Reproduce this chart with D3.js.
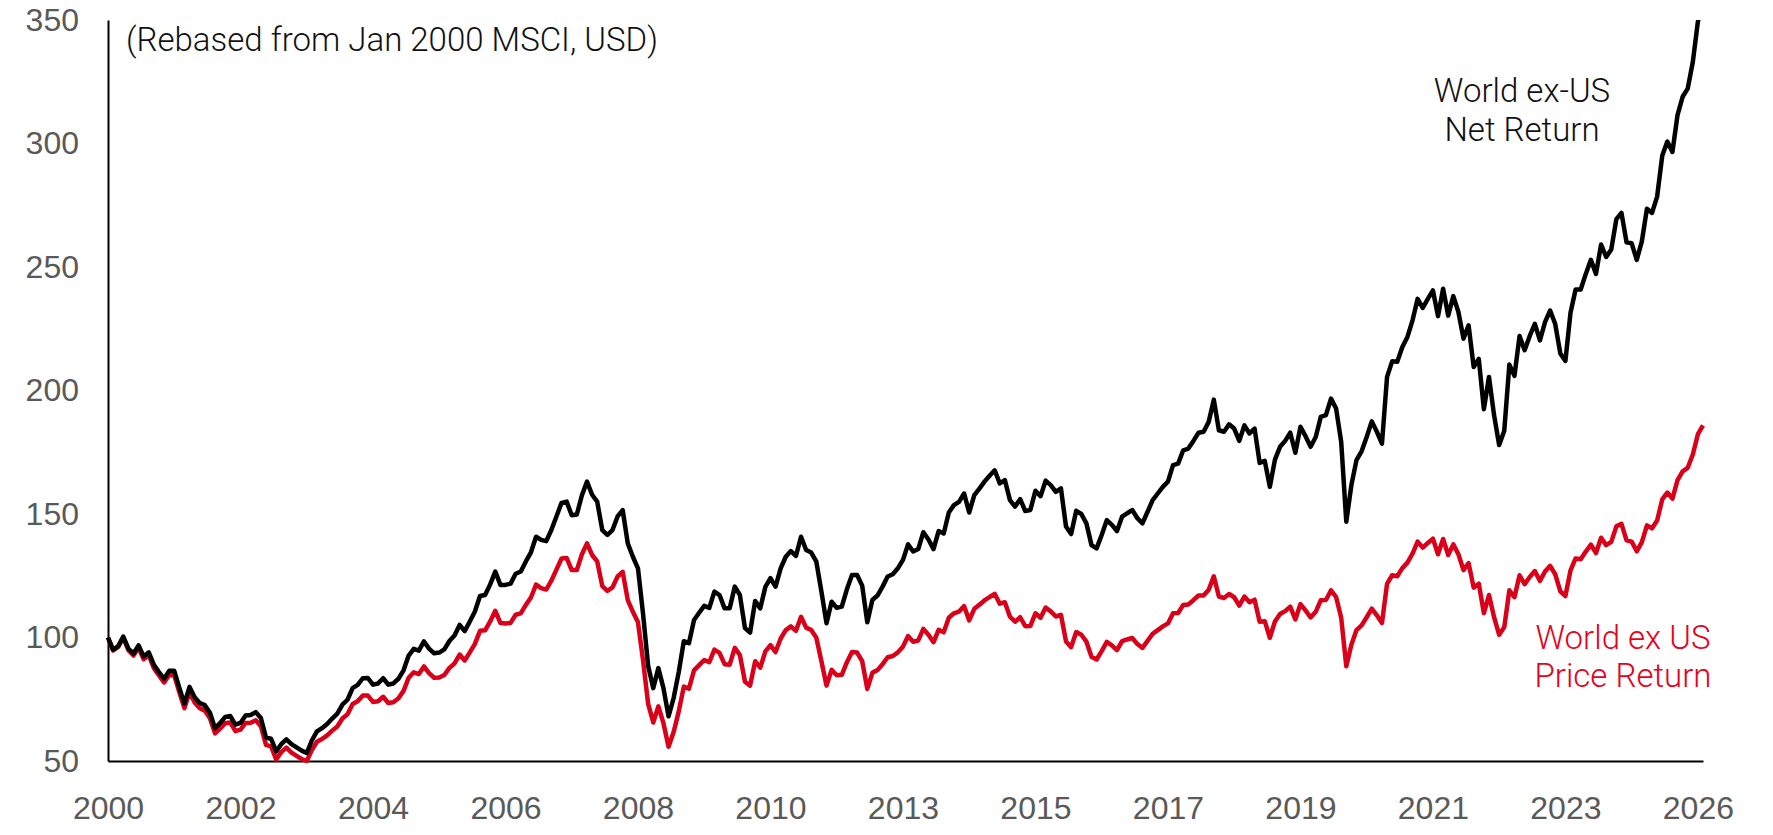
<!DOCTYPE html>
<html><head><meta charset="utf-8">
<script src="https://cdn.jsdelivr.net/npm/d3@7/dist/d3.min.js"></script>
<style>
html,body{margin:0;padding:0;background:#fff;}
svg{display:block;font-family:Roboto,"Liberation Sans",Arial,sans-serif;}
</style></head><body>
<svg id="chart" width="1773" height="835"></svg>
<script>
// ---- data (monthly, rebased to 100 at start) ----
const xTickLabels = ["2000","2002","2004","2006","2008","2010","2013","2015","2017","2019","2021","2023","2026"];
const yTickValues = [50,100,150,200,250,300,350];
const seriesNames = ["World ex-US Net Return","World ex US Price Return"];

const netReturn = [
100.0,95.0,96.5,100.4,95.5,93.5,96.8,92.3,94.0,88.9,86.0,83.3,86.5,
86.5,79.6,73.2,80.0,75.8,73.5,72.6,69.5,63.3,65.4,67.8,68.2,
64.7,65.4,68.4,68.6,69.8,67.4,59.5,59.0,53.9,56.8,58.8,56.8,
55.5,54.2,53.2,58.3,62.0,63.3,65.0,67.2,69.2,72.8,74.8,79.5,
80.8,83.5,83.6,80.9,81.4,83.5,80.9,81.4,83.3,86.7,92.7,95.4,
94.7,98.4,95.5,93.6,93.9,95.2,98.6,100.8,105.1,102.6,106.5,110.5,
116.8,117.2,121.5,126.7,121.3,121.3,121.8,125.8,126.7,130.8,134.5,140.8,
139.5,139.0,143.5,149.0,154.5,155.0,149.5,149.8,157.6,163.1,157.8,155.0,
143.5,141.5,143.5,149.0,151.6,138.1,132.7,128.0,109.5,88.5,79.5,87.6,
79.5,68.1,75.5,86.0,98.5,97.7,107.1,110.0,112.8,112.0,118.6,117.2,
111.8,111.8,120.6,117.2,103.8,102.0,114.8,111.8,120.5,124.0,120.6,128.0,
132.7,135.0,133.0,140.8,135.4,134.4,130.7,118.6,105.8,114.5,112.0,112.5,
119.5,125.3,125.3,121.0,106.2,115.2,117.0,120.6,124.7,125.6,128.0,131.4,
137.7,134.8,135.8,142.6,139.7,135.8,143.1,142.1,150.6,153.6,154.9,158.3,
150.6,157.6,160.3,163.1,165.5,167.7,162.4,163.7,155.6,153.0,156.0,151.2,
151.6,159.4,157.2,163.5,161.7,159.0,160.4,144.9,141.9,151.3,150.0,146.2,
137.4,136.1,141.5,147.5,145.6,143.1,148.9,150.3,151.6,148.3,146.2,150.9,
155.6,158.3,161.0,163.1,169.8,170.4,175.8,176.5,179.6,182.9,183.3,187.3,
196.3,183.9,183.3,186.3,184.6,179.6,185.9,182.6,184.6,170.7,171.5,161.0,
172.0,177.2,179.6,182.9,174.8,185.3,181.5,177.2,181.2,189.3,190.0,196.7,
192.7,179.2,146.9,161.7,171.8,175.4,181.2,187.5,183.3,178.5,205.5,211.8,
211.6,217.6,221.7,228.4,237.1,233.4,237.1,240.5,230.1,241.2,230.3,238.2,
231.8,221.0,226.4,209.5,212.8,192.4,205.5,190.0,177.9,183.7,210.5,205.9,
222.1,216.3,222.1,227.0,220.3,227.7,232.4,226.9,215.0,212.0,231.5,240.9,
240.9,247.2,252.9,247.2,259.1,254.1,257.1,269.4,271.9,260.0,259.6,252.9,
260.4,273.6,271.9,278.5,295.0,300.8,296.6,311.5,318.9,322.2,333.0,349.4,357.0
];

const priceReturn = [
100.0,94.8,96.2,99.9,94.9,92.7,95.8,91.2,92.8,87.6,84.6,81.8,84.8,
84.7,77.8,71.4,77.9,73.7,71.4,70.4,67.3,61.2,63.1,65.3,65.6,
62.1,62.7,65.4,65.5,66.5,64.1,56.5,55.9,50.6,53.6,55.4,53.4,
52.1,50.8,50.0,54.4,57.8,58.9,60.4,62.3,64.0,67.2,68.9,73.1,
74.2,76.5,76.5,73.9,74.2,76.0,73.5,73.8,75.4,78.4,83.7,85.9,
85.2,88.3,85.6,83.7,83.8,84.8,87.7,89.5,93.1,90.7,94.0,97.4,
102.7,102.9,106.5,110.8,105.9,105.7,105.9,109.2,109.8,113.2,116.2,121.4,
120.0,119.4,123.0,127.5,132.0,132.2,127.3,127.3,133.7,138.1,133.4,130.8,
120.8,118.9,120.3,124.7,126.6,115.1,110.4,106.2,90.7,73.1,65.6,72.1,
65.3,55.8,61.7,70.1,80.1,79.3,86.7,88.8,90.9,90.0,95.1,93.8,
89.2,89.0,95.8,92.9,82.1,80.5,90.4,87.8,94.4,96.9,94.1,99.6,
103.0,104.5,102.7,108.4,104.0,103.0,99.9,90.4,80.5,86.9,84.7,84.9,
90.0,94.1,93.9,90.4,79.2,85.7,86.8,89.2,92.0,92.5,94.0,96.3,
100.6,98.3,98.8,103.5,101.1,98.1,103.1,102.1,108.0,109.8,110.5,112.7,
106.9,111.6,113.3,115.0,116.4,117.7,113.7,114.3,108.4,106.4,108.2,104.6,
104.7,109.8,108.0,112.1,110.6,108.5,109.2,98.4,96.1,102.2,101.1,98.3,
92.2,91.1,94.5,98.2,96.8,94.9,98.5,99.2,99.8,97.4,95.8,98.6,
101.5,103.0,104.5,105.7,109.8,109.9,113.2,113.4,115.1,117.0,117.0,119.3,
124.8,116.6,116.0,117.6,116.3,112.9,116.6,114.3,115.3,106.4,106.6,99.9,
106.5,109.5,110.7,112.5,107.3,113.5,111.0,108.1,110.4,115.1,115.2,119.1,
116.4,108.0,88.4,97.1,103.0,104.9,108.2,111.7,109.0,105.9,121.7,125.2,
124.8,128.1,130.3,134.0,138.8,136.4,138.3,140.0,133.7,139.9,133.4,137.7,
133.7,127.3,130.1,120.2,121.8,109.9,117.2,108.2,101.1,104.2,119.1,116.3,
125.2,121.6,124.5,126.9,122.9,126.7,129.0,125.6,118.7,116.8,127.2,132.0,
131.7,134.8,137.6,134.2,140.4,137.4,138.7,145.0,146.0,139.3,138.8,134.9,
138.6,145.4,144.2,147.4,155.9,158.7,156.2,163.7,167.3,168.7,174.1,182.3,185.9
];

// ---- layout ----
const W = 1773, H = 835;
const plot = {left:108, right:1703, top:20, bottom:761};
const svg = d3.select("#chart");

const x = d3.scaleLinear().domain([0, netReturn.length - 1]).range([plot.left, plot.right]);
const y = d3.scaleLinear().domain([50, 350]).range([plot.bottom, plot.top]);

const tickStep = (netReturn.length - 2) / (xTickLabels.length - 1);
const xTickIdx = xTickLabels.map((_, i) => i * tickStep);

svg.append("defs").append("clipPath").attr("id","clip")
  .append("rect").attr("x", plot.left - 5).attr("y", plot.top)
  .attr("width", plot.right - plot.left + 20).attr("height", H - plot.top);

// x axis
const xAxis = d3.axisBottom(x).tickValues(xTickIdx)
  .tickFormat((d, i) => xTickLabels[i]).tickSizeInner(0).tickSizeOuter(0).tickPadding(35);
const gx = svg.append("g").attr("transform", `translate(0,${plot.bottom})`).call(xAxis);
gx.select(".domain").attr("stroke","#000").attr("stroke-width",2);
gx.selectAll("text").attr("fill","#595959").style("font-size","32px").style("font-weight","300");

// y axis
const yAxis = d3.axisLeft(y).tickValues(yTickValues).tickSizeInner(0).tickSizeOuter(0).tickPadding(29);
const gy = svg.append("g").attr("transform", `translate(${plot.left},0)`).call(yAxis);
gy.select(".domain").attr("stroke","#000").attr("stroke-width",2);
gy.selectAll("text").attr("fill","#595959").style("font-size","32px").style("font-weight","300");

// lines
const line = d3.line().x((d, i) => x(i)).y(d => y(d));
const g = svg.append("g").attr("clip-path","url(#clip)");
g.append("path").datum(priceReturn).attr("d", line)
  .attr("fill","none").attr("stroke","#DA0019").attr("stroke-width",4.5).attr("stroke-linejoin","round");
g.append("path").datum(netReturn).attr("d", line)
  .attr("fill","none").attr("stroke","#000").attr("stroke-width",4.5).attr("stroke-linejoin","round");

// annotations
svg.append("text").attr("x",126).attr("y",51)
  .style("font-size","33px").style("font-weight","300").attr("fill","#111")
  .text("(Rebased from Jan 2000 MSCI, USD)");

const lbl1 = svg.append("text").attr("text-anchor","middle")
  .style("font-size","33px").style("font-weight","300").attr("fill","#111");
lbl1.append("tspan").attr("x",1522).attr("y",102).text("World ex-US");
lbl1.append("tspan").attr("x",1522).attr("y",141).text("Net Return");

const lbl2 = svg.append("text").attr("text-anchor","middle")
  .style("font-size","33px").style("font-weight","300").attr("fill","#E8001C");
lbl2.append("tspan").attr("x",1623).attr("y",649).text("World ex US");
lbl2.append("tspan").attr("x",1623).attr("y",687).text("Price Return");
</script>
</body></html>
